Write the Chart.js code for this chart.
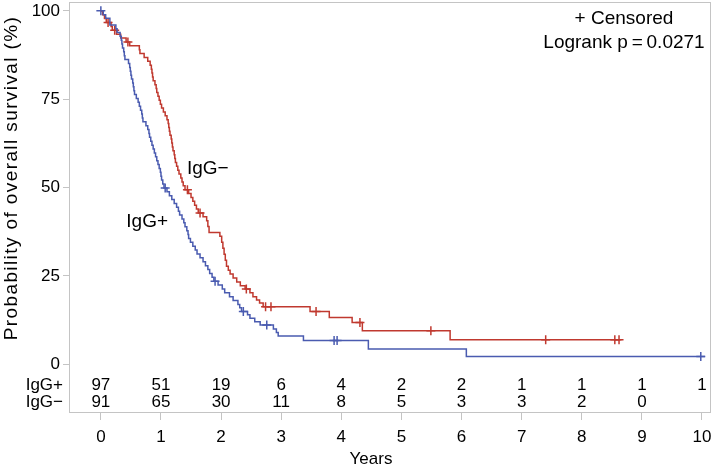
<!DOCTYPE html>
<html>
<head>
<meta charset="utf-8">
<script src="https://cdn.jsdelivr.net/npm/chart.js@4/dist/chart.umd.min.js"></script>
<style>
  html, body { margin: 0; padding: 0; background: #fff; }
  canvas { display: block; }
</style>
</head>
<body>
<canvas id="km" width="714" height="470"></canvas>
<script>
// KM steps: [years, survival % after the step]
const stepsPos = [
  [0, 100], [0.04, 98.9], [0.08, 97.9], [0.15, 96.0], [0.25, 94.9], [0.27, 93.9],
  [0.32, 92.8], [0.34, 91.7], [0.35, 90.6], [0.36, 89.5], [0.38, 88.4], [0.39, 87.3],
  [0.40, 86.2], [0.46, 85.1], [0.48, 84.0], [0.49, 82.9], [0.50, 81.8], [0.51, 80.7],
  [0.53, 79.6], [0.54, 78.5], [0.55, 77.4], [0.56, 76.3], [0.59, 75.2], [0.62, 74.1],
  [0.64, 73.0], [0.66, 71.9], [0.68, 70.8], [0.69, 69.7], [0.70, 68.6], [0.75, 67.5],
  [0.78, 66.4], [0.80, 65.3], [0.81, 64.2], [0.83, 63.1], [0.85, 62.0], [0.87, 60.9],
  [0.89, 59.8], [0.91, 58.7], [0.93, 57.6], [0.95, 56.5], [0.97, 55.4], [0.99, 54.3],
  [1.00, 53.2], [1.01, 52.1], [1.03, 51.0], [1.05, 49.9], [1.10, 48.8], [1.14, 47.7],
  [1.18, 46.6], [1.22, 45.5], [1.26, 44.4], [1.29, 43.3], [1.31, 42.2], [1.35, 41.1],
  [1.38, 40.0], [1.40, 38.9], [1.43, 37.8], [1.45, 36.7], [1.46, 35.6], [1.49, 34.5],
  [1.53, 33.4], [1.57, 32.3], [1.60, 31.2], [1.65, 30.1], [1.70, 29.0], [1.74, 27.9],
  [1.78, 26.8], [1.81, 25.7], [1.85, 24.6], [1.88, 23.5], [1.95, 22.4], [2.02, 21.3],
  [2.06, 20.2], [2.14, 19.1], [2.20, 18.0], [2.28, 16.9], [2.31, 16.0], [2.34, 14.9],
  [2.44, 14.0], [2.48, 13.0], [2.56, 12.0], [2.65, 11.1], [2.87, 10.0], [2.92, 9.0],
  [2.95, 8.0], [3.37, 6.7], [4.45, 4.3], [6.08, 2.2], [10.05, 2.2]
];
const stepsNeg = [
  [0, 100], [0.03, 98.9], [0.06, 97.8], [0.09, 96.7], [0.17, 95.6], [0.19, 94.5],
  [0.26, 93.4], [0.33, 92.3], [0.42, 91.2], [0.48, 90.1], [0.64, 89.0], [0.65, 87.9],
  [0.72, 86.8], [0.78, 85.7], [0.82, 84.6], [0.84, 83.5], [0.85, 82.4], [0.86, 81.3],
  [0.87, 80.2], [0.90, 79.1], [0.92, 78.0], [0.93, 76.9], [0.95, 75.8], [0.97, 74.7],
  [0.99, 73.6], [1.01, 72.5], [1.04, 71.4], [1.07, 70.3], [1.10, 69.2], [1.12, 68.1],
  [1.13, 67.0], [1.14, 65.9], [1.15, 64.8], [1.17, 63.7], [1.18, 62.6], [1.19, 61.5],
  [1.20, 60.4], [1.22, 59.3], [1.23, 58.2], [1.24, 57.1], [1.26, 56.0], [1.28, 54.9],
  [1.30, 53.8], [1.33, 52.7], [1.35, 51.6], [1.37, 50.5], [1.40, 49.4], [1.46, 48.3],
  [1.50, 47.2], [1.53, 46.1], [1.56, 45.0], [1.59, 43.9], [1.62, 42.8], [1.70, 41.7],
  [1.76, 40.6], [1.78, 39.0], [1.80, 37.3], [1.98, 36.2], [2.01, 34.5], [2.03, 32.8],
  [2.05, 31.1], [2.07, 29.4], [2.09, 27.7], [2.12, 26.6], [2.15, 25.5], [2.20, 24.4],
  [2.26, 23.3], [2.32, 22.2], [2.40, 21.3], [2.48, 20.2], [2.53, 19.1], [2.59, 18.2],
  [2.64, 17.3], [2.70, 16.3], [3.48, 14.9], [3.80, 13.2], [4.18, 11.8], [4.35, 9.5],
  [5.81, 6.9], [8.66, 6.9]
];
// censoring times (years)
const censorPos = [0, 1.07, 1.90, 2.37, 2.76, 3.88, 3.93, 9.98];
const censorNeg = [0.12, 0.23, 0.45, 1.44, 1.65, 2.42, 2.74, 2.83, 3.58, 4.31, 5.49, 7.40, 8.55, 8.62];

const yearTicks = [0, 1, 2, 3, 4, 5, 6, 7, 8, 9, 10];
const survTicks = [0, 25, 50, 75, 100];
const atRiskPos = [97, 51, 19, 6, 4, 2, 2, 1, 1, 1, 1];
const atRiskNeg = [91, 65, 30, 11, 8, 5, 3, 3, 2, 0];

const RED = '#C0392F';
const BLUE = '#4A5BB0';
const FRAME = '#C4C4C4';
const FONT = '"Liberation Sans", Arial, Helvetica, sans-serif';

function survAt(steps, t) {
    let s = steps[0][1];
    for (const [x, y] of steps) { if (x <= t) s = y; }
    return s;
}

const toXY = steps => steps.map(([x, y]) => ({ x, y }));
const censorXY = (times, steps) => times.map(t => ({ x: t, y: survAt(steps, t) }));

const decor = {
    id: 'decor',
    afterDraw(chart) {
        const { ctx, chartArea: a, scales: { x, y } } = chart;
        ctx.save();
        // frame
        ctx.strokeStyle = FRAME;
        ctx.lineWidth = 1;
        ctx.strokeRect(a.left + 0.5, a.top + 0.5, a.right - a.left - 1, a.bottom - a.top - 1);

        ctx.fillStyle = '#000';
        ctx.font = '17px ' + FONT;
        ctx.textBaseline = 'middle';

        // number at risk
        ctx.textAlign = 'center';
        const rowPos = y.getPixelForValue(-5.9);
        const rowNeg = y.getPixelForValue(-10.8);
        atRiskPos.forEach((n, i) => ctx.fillText(String(n), x.getPixelForValue(yearTicks[i]), rowPos));
        atRiskNeg.forEach((n, i) => ctx.fillText(String(n), x.getPixelForValue(yearTicks[i]), rowNeg));
        ctx.textAlign = 'right';
        ctx.fillText('IgG+', a.left - 6, rowPos);
        ctx.fillText('IgG\u2212', a.left - 6, rowNeg);

        ctx.textAlign = 'center';
        ctx.fillText('Years', 371, 459);

        // curve labels
        ctx.font = '19px ' + FONT;
        ctx.fillText('IgG\u2212', x.getPixelForValue(1.78), y.getPixelForValue(55.3));
        ctx.fillText('IgG+', x.getPixelForValue(0.77), y.getPixelForValue(40.3));

        // legend text
        ctx.fillText('+ Censored', 624, 19);
        ctx.fillText('Logrank p\u2009=\u20090.0271', 624, 43);

        // y title
        ctx.font = '19px ' + FONT;
        ctx.letterSpacing = '1.4px';
        ctx.translate(12, 178);
        ctx.rotate(-Math.PI / 2);
        ctx.fillText('Probability of overall survival (%)', 0, 0);
        ctx.restore();
    }
};

new Chart(document.getElementById('km'), {
    type: 'line',
    data: {
        datasets: [
            { label: 'IgG+', data: toXY(stepsPos), stepped: true, borderColor: BLUE, borderWidth: 1.5, pointRadius: 0, fill: false },
            { label: 'IgG\u2212', data: toXY(stepsNeg), stepped: true, borderColor: RED, borderWidth: 1.5, pointRadius: 0, fill: false },
            { label: 'cens+', data: censorXY(censorPos, stepsPos), showLine: false, pointStyle: 'cross', pointRadius: 4.5, borderColor: BLUE, borderWidth: 1.5 },
            { label: 'cens-', data: censorXY(censorNeg, stepsNeg), showLine: false, pointStyle: 'cross', pointRadius: 4.5, borderColor: RED, borderWidth: 1.5 }
        ]
    },
    options: {
        responsive: false,
        animation: false,
        devicePixelRatio: 1,
        layout: { autoPadding: false, padding: { top: 2, right: 3, left: 0, bottom: 0 } },
        plugins: { legend: { display: false }, tooltip: { enabled: false } },
        scales: {
            x: {
                type: 'linear', min: -0.53, max: 10.15,
                afterBuildTicks: s => { s.ticks = yearTicks.map(v => ({ value: v })); },
                afterFit: s => { s.height = 57; s.paddingLeft = 0; s.paddingRight = 0; },
                border: { display: false },
                grid: { drawOnChartArea: false, drawTicks: true, tickLength: 7, color: FRAME },
                ticks: { color: '#000', font: { family: FONT, size: 17 }, padding: 7, maxRotation: 0 }
            },
            y: {
                type: 'linear', min: -13.8, max: 102.5,
                afterBuildTicks: s => { s.ticks = survTicks.map(v => ({ value: v })); },
                afterFit: s => { s.width = 69; s.paddingTop = 0; s.paddingBottom = 0; },
                border: { display: false },
                grid: { drawOnChartArea: false, drawTicks: true, tickLength: 6, color: FRAME },
                ticks: { color: '#000', font: { family: FONT, size: 17 }, padding: 3 }
            }
        }
    },
    plugins: [decor]
});
</script>
</body>
</html>
